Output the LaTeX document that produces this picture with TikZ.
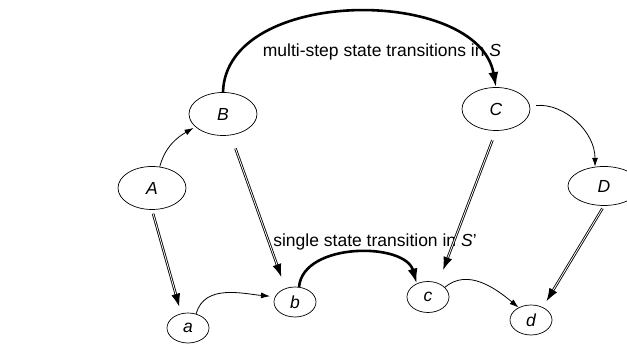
\documentclass[tikz,border=0pt]{standalone}
\usepackage{fontspec}
\setmainfont{Liberation Sans}
\usetikzlibrary{arrows.meta,shapes.geometric}
\begin{document}
\begin{tikzpicture}[x=1pt,y=1pt,
		state/.style={draw,ellipse,inner sep=0pt,line width=0.7pt,font=\fontsize{17.5}{20}\selectfont\itshape},
		bigstate/.style={state,minimum width=68pt,minimum height=43pt},
		smallstate/.style={state,minimum width=42pt,minimum height=30pt},
		thinarrow/.style={line width=0.8pt,-{Latex[length=9pt,width=6pt]}},
		thickarrow/.style={line width=2.6pt,-{Latex[length=15pt,width=10pt]}},
		maparrow/.style={double,double distance=0.8pt,line width=0.85pt,-{Latex[length=13pt,width=9pt]}},
		lbl/.style={font=\fontsize{17.5}{20}\selectfont}]
			\useasboundingbox (0,0) rectangle (627,344);
			\node[bigstate] (A) at (152,156) {A};
			\node[bigstate] (B) at (223,230) {B};
			\node[bigstate] (C) at (496,235) {C};
			\node[bigstate,minimum width=72pt,minimum height=39pt] (D) at (604,158) {D};
			\node[smallstate] (a) at (188,16) {a};
			\node[smallstate] (b) at (295,42) {b};
			\node[smallstate,minimum height=31pt] (c) at (428,47) {c};
			\node[smallstate] (d) at (531,24) {d};
			\node[lbl] (multi) at (382,292) {multi-step state transitions in \textit{S}};
			\node[lbl] (single) at (375,102) {single state transition in \textit{S}'};
			\draw[thinarrow,shorten >=2pt] (A.70) to[out=75,in=-150] (B.205);
			\draw[thickarrow] (B.north) .. controls (226,358) and (478,358) .. (C.north);
			\draw[thinarrow,shorten <=6pt] (C.5) to[out=5,in=90] (D.115);
			\draw[maparrow,shorten <=4pt,shorten >=7pt] (A.south) -- (a.115);
			\draw[maparrow,shorten <=14pt,shorten >=12pt] (B.-70) -- (b.125);
			\draw[maparrow,shorten <=10pt,shorten >=14pt] (C.south) -- (c.54);
			\draw[maparrow,shorten <=3pt,shorten >=7pt] (D.south) -- (d.47);
			\draw[thinarrow,shorten >=5pt] (a.60) to[out=75,in=175] (b.165);
			\draw[thickarrow] (b.75) .. controls (303,102) and (405,102) .. (c.130);
			\draw[thinarrow] (c.30) to[out=40,in=140] (d.135);
		\end{tikzpicture}
\end{document}
